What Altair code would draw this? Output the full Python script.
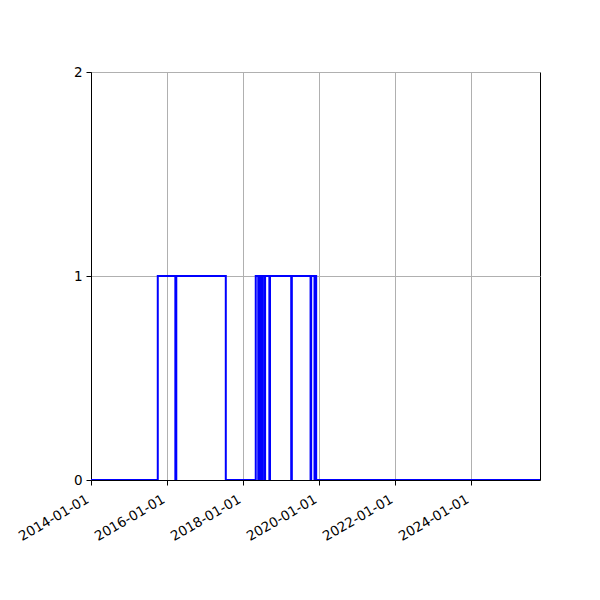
import altair as alt
import pandas as pd

dates = [
    "2014-01-01", "2015-10-05", "2016-03-22", "2016-03-31", "2017-07-20",
    "2018-05-04", "2018-05-28", "2018-06-02", "2018-06-10", "2018-06-14",
    "2018-06-22", "2018-06-26", "2018-07-04", "2018-07-08", "2018-07-28",
    "2018-08-02", "2018-09-12", "2018-09-18", "2019-04-10", "2019-04-16",
    "2019-10-13", "2019-10-19", "2019-11-20", "2019-11-25", "2019-12-06",
    "2025-10-27",
]
values = [
    0, 1, 0, 1, 0,
    1, 0, 1, 0, 1,
    0, 1, 0, 1, 0,
    1, 0, 1, 0, 1,
    0, 1, 0, 1, 0,
    0,
]
tick_years = [2014, 2016, 2018, 2020, 2022, 2024]
y_tick_count = 2

df = pd.DataFrame({"date": dates, "value": values})

x_axis = alt.Axis(
    values=[alt.DateTime(year=y, month=1, date=1, utc=True) for y in tick_years],
    format="%Y-%m-%d",
    labelAngle=-30,
    labelAlign="right",
    labelBaseline="top",
    labelPadding=7,
    labelOffset=-7,
    labelOverlap=False,
    title=None,
)
y_axis = alt.Axis(
    tickCount=y_tick_count,
    format="d",
    title=None,
    labelPadding=4,
    labelOverlap=False,
)

chart = (
    alt.Chart(df)
    .mark_line(interpolate="step-after", color="#0000ff", strokeWidth=2, clip=True)
    .encode(
        x=alt.X(
            "date:T",
            scale=alt.Scale(
                type="utc",
                domain=[
                    alt.DateTime(year=2014, month=1, date=1, utc=True),
                    alt.DateTime(year=2025, month=10, date=27, utc=True),
                ],
                nice=False,
            ),
            axis=x_axis,
        ),
        y=alt.Y("value:Q", scale=alt.Scale(domain=[0, 2], nice=False), axis=y_axis),
    )
    .properties(
        width=449,
        height=408,
        autosize=alt.AutoSizeParams(type="none"),
        padding={"left": 83, "top": 64, "right": 52, "bottom": 112},
    )
    .configure_view(stroke="black", strokeWidth=1)
    .configure_axis(
        domainColor="black",
        domainWidth=1,
        tickColor="black",
        tickSize=5,
        tickWidth=1,
        gridColor="#b0b0b0",
        gridWidth=1,
        labelColor="black",
        labelFont="DejaVu Sans",
        labelFontSize=13.5,
    )
)

chart.save("out.html", embed_options={"renderer": "svg", "actions": False})
